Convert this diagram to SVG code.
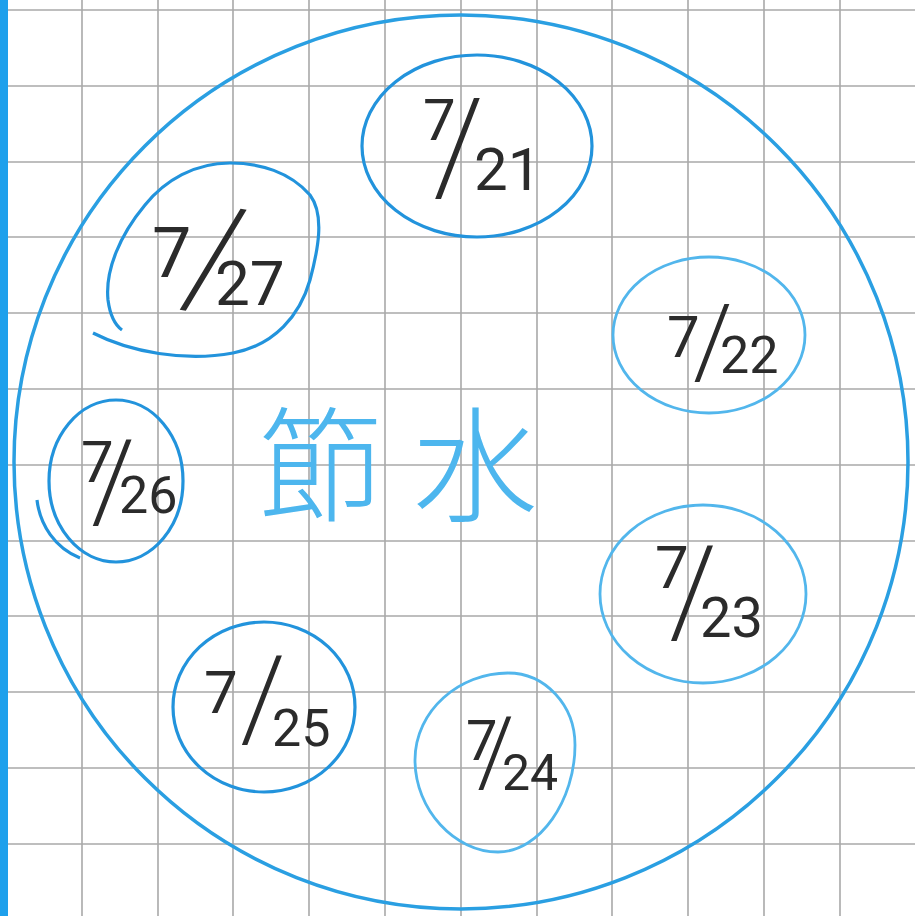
<svg xmlns="http://www.w3.org/2000/svg" width="915" height="916" viewBox="0 0 915 916">
<style>
.grid{stroke:#a9a9a9;stroke-width:1.6;fill:none}
.ring{fill:none;stroke:#2a9fe2;stroke-width:3.5}
.node{fill:none;stroke:#2293dc;stroke-width:3.2}
.light{stroke:#52b6ec;stroke-width:2.8}
.lbl{font-family:Roboto,"Liberation Sans",sans-serif;font-weight:400;fill:#2b2b2b}
.sl{font-weight:100;stroke:#2b2b2b;stroke-width:2}
.title{font-family:"Noto Sans CJK JP","Noto Sans CJK SC",sans-serif;font-weight:300;fill:#4db6ee;font-size:125px}
</style>
<rect width="915" height="916" fill="#ffffff"/>
<g id="grid">
<path class="grid" d="M82,0V916M158,0V916M233,0V916M309,0V916M385,0V916M461,0V916M537,0V916M612,0V916M688,0V916M764,0V916M840,0V916"/>
<path class="grid" d="M0,10H915M0,86H915M0,162H915M0,237H915M0,313H915M0,389H915M0,465H915M0,541H915M0,616H915M0,692H915M0,768H915M0,844H915"/>
</g>
<rect x="0" y="0" width="8" height="916" fill="#1ea0ec"/>
<g id="outline">
<circle class="ring" cx="461" cy="462" r="447"/>
</g>
<g id="title">
<text class="title" y="512"><tspan x="258">節</tspan><tspan x="413">水</tspan></text>
</g>
<g id="connectors"></g>
<g id="n0721">
<ellipse class="node" cx="477" cy="146" rx="115" ry="91"/>
<text class="lbl"><tspan x="423" y="140" font-size="58">7</tspan><tspan class="sl" x="434" y="190" font-size="128">/</tspan><tspan x="474" y="190" font-size="60">21</tspan></text>
</g>
<g id="n0722">
<ellipse class="node light" cx="709" cy="335" rx="96" ry="78"/>
<text class="lbl"><tspan x="667" y="357" font-size="58">7</tspan><tspan class="sl" x="694" y="375" font-size="98">/</tspan><tspan x="720" y="373" font-size="52">22</tspan></text>
</g>
<g id="n0723">
<ellipse class="node light" cx="703" cy="594" rx="103" ry="89"/>
<text class="lbl"><tspan x="655" y="588" font-size="60">7</tspan><tspan class="sl" x="670" y="633" font-size="120">/</tspan><tspan x="700" y="637" font-size="56">23</tspan></text>
</g>
<g id="n0724">
<path class="node light" d="M508,673 C545,673 575,705 575,745 C575,800 540,852 498,852 C455,852 415,810 415,760 C415,710 460,673 508,673Z"/>
<text class="lbl"><tspan x="466" y="760" font-size="56">7</tspan><tspan class="sl" x="478" y="783" font-size="92">/</tspan><tspan x="502" y="790" font-size="50">24</tspan></text>
</g>
<g id="n0725">
<ellipse class="node" cx="264" cy="707" rx="91" ry="85"/>
<text class="lbl"><tspan x="204" y="713" font-size="60">7</tspan><tspan class="sl" x="241" y="737" font-size="114">/</tspan><tspan x="272" y="746" font-size="52">25</tspan></text>
</g>
<g id="n0726">
<ellipse class="node" cx="116" cy="481" rx="67" ry="81"/>
<path class="node" d="M37,500 C40,525 55,548 80,558" stroke-width="2.5"/>
<text class="lbl"><tspan x="81" y="482" font-size="58">7</tspan><tspan class="sl" x="92" y="518" font-size="110">/</tspan><tspan x="119" y="513" font-size="52">26</tspan></text>
</g>
<g id="n0727">
<path class="node" d="M93,333 C130,352 185,362 233,353 C275,345 300,315 310,280 C318,250 325,215 310,195 C290,172 260,163 230,163 C195,163 165,180 145,205 C120,235 105,270 108,300 C110,315 115,325 122,330"/>
<text class="lbl"><tspan x="152" y="277" font-size="70">7</tspan><tspan class="sl" x="180" y="300" font-size="140" rotate="10">/</tspan><tspan x="215" y="305" font-size="62">27</tspan></text>
</g>
</svg>
